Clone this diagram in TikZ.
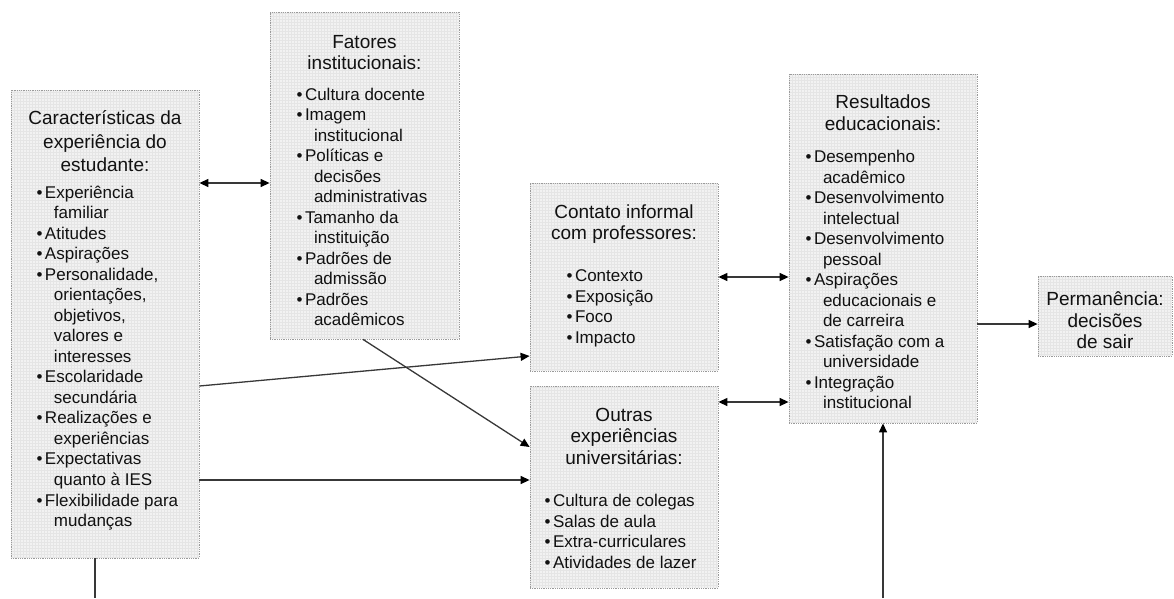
\documentclass[tikz,border=0pt]{standalone}
\usepackage{fontspec}
\setmainfont{Liberation Sans}
\usetikzlibrary{arrows.meta}

\definecolor{boxfill}{HTML}{F2F2F2}
\definecolor{boxgrid}{HTML}{E5E5E5}
\definecolor{boxline}{HTML}{9A9A9A}
\definecolor{ink}{HTML}{111111}
\definecolor{wire}{HTML}{383838}

% list layout inside the boxes
\newlength{\bx}
\newcommand{\ttl}[2][21.5]{{\centering\fontsize{19}{#1}\selectfont #2\par}}
\newcommand{\itemsize}{\fontsize{17}{20.5}\selectfont}
\newcommand{\bl}[1]{\par\noindent\hspace*{\bx}\llap{\textbullet\hspace{2.5pt}}#1}
\newcommand{\cl}[1]{\par\noindent\hspace*{\dimexpr\bx+9pt\relax}#1}
% box body: width, height, space above the first line, content
\newcommand{\body}[4]{\parbox[c][#2][t]{#1}{\vspace*{#3}#4}}

\begin{document}
\begin{tikzpicture}[x=1pt,y=-1pt,
  box/.style={draw=boxline, densely dotted, line width=0.8pt, fill=boxfill,
    inner sep=0pt, text=ink,
    path picture={\draw[boxgrid, solid, line width=0.3pt, step=3pt]
      (path picture bounding box.south west) grid (path picture bounding box.north east);}},
  wirestyle/.style={draw=wire, line width=1.3pt},
  link/.style={wirestyle, -{Triangle[length=9pt,width=8pt,color=black]}},
  twoway/.style={wirestyle, {Triangle[length=9pt,width=8pt,color=black]}-{Triangle[length=9pt,width=8pt,color=black]}}
]
\useasboundingbox (0,0) rectangle (1174,598);

% student background
\node[box, minimum width=188pt, minimum height=468pt] (A) at (105,324) {\body{188pt}{468pt}{21pt}{%
  \ttl[23.5]{Características da\\experiência do\\estudante:}\vspace{6pt}%
  \itemsize\setlength{\bx}{34pt}%
  \bl{Experiência}\cl{familiar}%
  \bl{Atitudes}%
  \bl{Aspirações}%
  \bl{Personalidade,}\cl{orientações,}\cl{objetivos,}\cl{valores e}\cl{interesses}%
  \bl{Escolaridade}\cl{secundária}%
  \bl{Realizações e}\cl{experiências}%
  \bl{Expectativas}\cl{quanto à IES}%
  \bl{Flexibilidade para}\cl{mudanças}}};

% institutional factors
\node[box, minimum width=189pt, minimum height=327pt] (B) at (364.5,175.5) {\body{189pt}{327pt}{23pt}{%
  \ttl{Fatores\\institucionais:}\vspace{10pt}%
  \itemsize\setlength{\bx}{35pt}%
  \bl{Cultura docente}%
  \bl{Imagem}\cl{institucional}%
  \bl{Políticas e}\cl{decisões}\cl{administrativas}%
  \bl{Tamanho da}\cl{instituição}%
  \bl{Padrões de}\cl{admissão}%
  \bl{Padrões}\cl{acadêmicos}}};

% informal contact with faculty
\node[box, minimum width=188pt, minimum height=188pt] (C) at (624,277) {\body{188pt}{188pt}{22pt}{%
  \ttl[20.5]{Contato informal\\com professores:}\vspace{22pt}%
  \itemsize\setlength{\bx}{45pt}%
  \bl{Contexto}%
  \bl{Exposição}%
  \bl{Foco}%
  \bl{Impacto}}};

% other college experiences
\node[box, minimum width=188pt, minimum height=202pt] (D) at (624,487) {\body{188pt}{202pt}{22pt}{%
  \ttl{Outras\\experiências\\universitárias:}\vspace{22pt}%
  \itemsize\setlength{\bx}{23pt}%
  \bl{Cultura de colegas}%
  \bl{Salas de aula}%
  \bl{Extra-curriculares}%
  \bl{Atividades de lazer}}};

% educational outcomes
\node[box, minimum width=188pt, minimum height=349pt] (E) at (883,248.5) {\body{188pt}{349pt}{21pt}{%
  \ttl{Resultados\\educacionais:}\vspace{12pt}%
  \itemsize\setlength{\bx}{25pt}%
  \bl{Desempenho}\cl{acadêmico}%
  \bl{Desenvolvimento}\cl{intelectual}%
  \bl{Desenvolvimento}\cl{pessoal}%
  \bl{Aspirações}\cl{educacionais e}\cl{de carreira}%
  \bl{Satisfação com a}\cl{universidade}%
  \bl{Integração}\cl{institucional}}};

% persistence
\node[box, minimum width=134pt, minimum height=80pt] (F) at (1105,316) {\body{134pt}{80pt}{16pt}{%
  \ttl{Permanência:\\decisões\\de sair}}};

% loose ends at the lower edge
\coordinate (aout) at (95,598);
\coordinate (ein) at (883,598);

% row heights of the horizontal connectors
\coordinate (hAB) at (0,183);
\coordinate (hAC) at (0,386);
\coordinate (hCA) at (0,356);
\coordinate (hAD) at (0,480);
\coordinate (hBD) at (0,447);
\coordinate (hDE) at (0,402);
\coordinate (hEF) at (0,324);

\draw[twoway] (A.east |- hAB) -- (B.west |- hAB);
\draw[link] (A.east |- hAC) -- (C.west |- hCA);
\draw[link] (A.east |- hAD) -- (D.west |- hAD);
\draw[link] ([xshift=-1.5pt]B.south) -- (D.west |- hBD);
\draw[twoway] (C.east) -- (E.west |- C.east);
\draw[twoway] (D.east |- hDE) -- (E.west |- hDE);
\draw[link] (E.east |- hEF) -- (F.west |- hEF);
\draw[wirestyle] (A.south -| aout) -- (aout);
\draw[link] (ein) -- (E.south);
\end{tikzpicture}
\end{document}
